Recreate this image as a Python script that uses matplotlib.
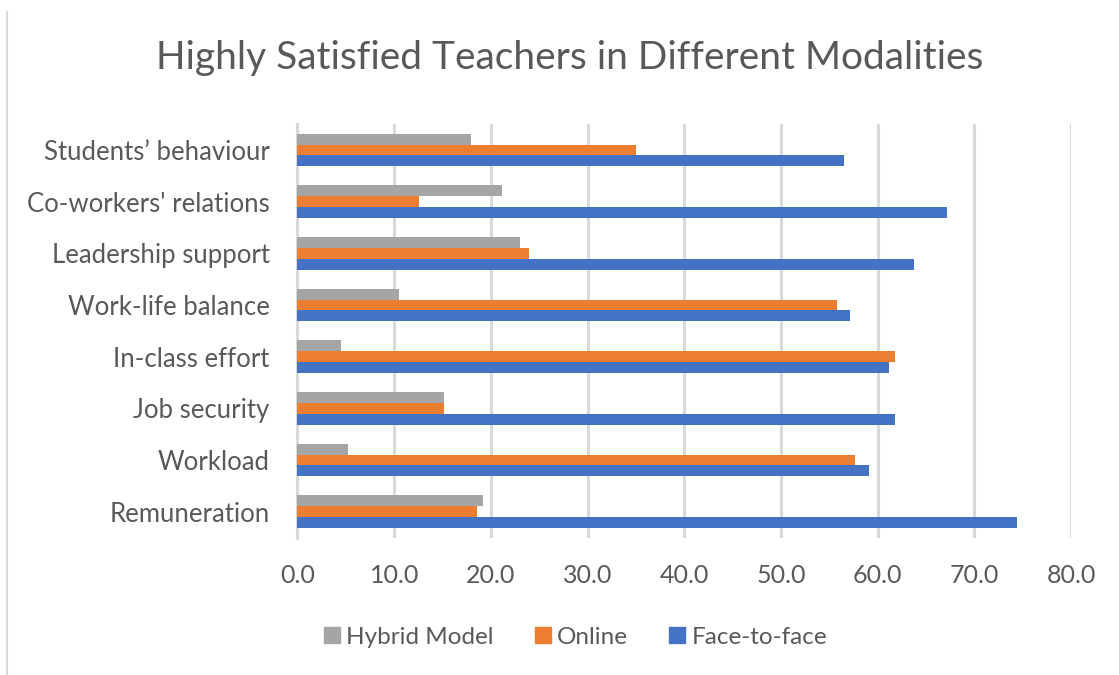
import numpy as np
import matplotlib
matplotlib.use('Agg')
import matplotlib.pyplot as plt
from matplotlib.lines import Line2D

# Data (top to bottom as shown)
categories = ['Students\u2019 behaviour', "Co-workers' relations", 'Leadership support',
              'Work-life balance', 'In-class effort', 'Job security', 'Workload', 'Remuneration']
hybrid = [17.9, 21.1, 23.0, 10.5, 4.5, 15.2, 5.2, 19.2]
online = [35.0, 12.6, 23.9, 55.8, 61.8, 15.2, 57.7, 18.6]
face_to_face = [56.5, 67.2, 63.8, 57.1, 61.2, 61.8, 59.1, 74.4]
series_names = ['Hybrid Model', 'Online', 'Face-to-face']
colors = ['#A5A5A5', '#ED7D31', '#4472C4']
x_ticks = [0, 10, 20, 30, 40, 50, 60, 70, 80]

plt.rcParams['font.family'] = ['Lato', 'DejaVu Sans']
text_color = '#595959'

fig = plt.figure(figsize=(11.19, 6.75), dpi=100)
ax = fig.add_axes([297.5 / 1119, 1 - 537.5 / 675, (1071 - 297.5) / 1119, (537.5 - 124.2) / 675])

y = np.arange(len(categories))
h = 0.209
for offset, vals, color in zip([-h, 0, h], [hybrid, online, face_to_face], colors):
    ax.barh(y + offset, vals, height=h, color=color, zorder=3)

ax.set_xlim(0, 80)
ax.set_ylim(-0.5, len(categories) - 0.5)
ax.invert_yaxis()
ax.set_xticks(x_ticks)
ax.set_xticklabels([f'{v:.1f}' for v in x_ticks])
ax.set_yticks(y)
ax.set_yticklabels(categories)
ax.tick_params(axis='x', length=0, pad=19, labelsize=18, labelcolor=text_color)
ax.tick_params(axis='y', length=0, pad=20, labelsize=18.5, labelcolor=text_color)
ax.xaxis.grid(True, color='#D9D9D9', linewidth=2.2, zorder=0)
for side in ['top', 'right', 'bottom']:
    ax.spines[side].set_visible(False)
ax.spines['left'].set_color('#D9D9D9')
ax.spines['left'].set_linewidth(2.2)

fig.text(569.5 / 1119, 1 - 58 / 675, 'Highly Satisfied Teachers in Different Modalities',
         ha='center', va='center', fontsize=28, color=text_color)

handles = [Line2D([], [], marker='s', linestyle='none', markersize=11,
                  markerfacecolor=c, markeredgecolor=c) for c in colors]
fig.legend(handles, series_names, loc='center', bbox_to_anchor=(574.5 / 1119, 1 - 637 / 675),
           ncol=3, frameon=False, fontsize=17.5, labelcolor=text_color,
           handletextpad=0.2, columnspacing=1.6, handlelength=0.8)

# chart border on the left edge
fig.add_artist(Line2D([7 / 1119, 7 / 1119], [0, 1 - 12 / 675], color='#D9D9D9', linewidth=1.5))

fig.savefig('out.png', dpi=100)
